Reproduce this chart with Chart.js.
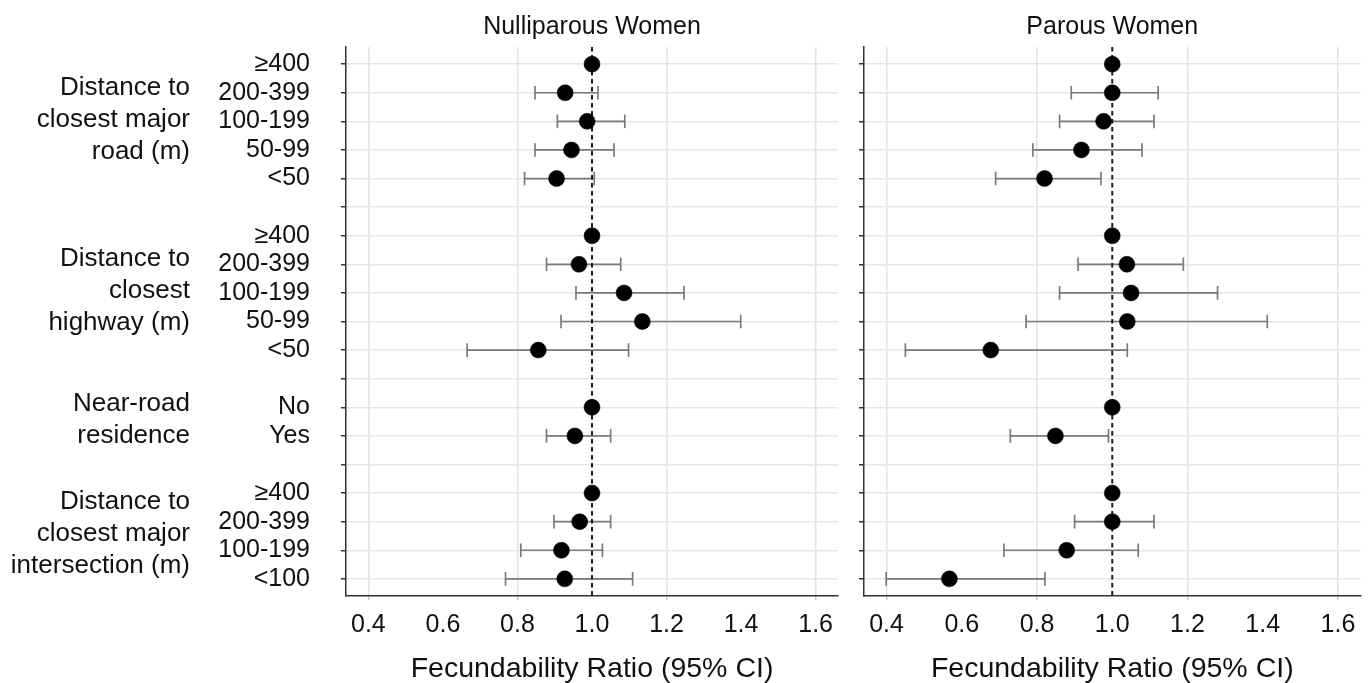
<!DOCTYPE html>
<html><head><meta charset="utf-8">
<script src="https://cdn.jsdelivr.net/npm/chart.js@4.4.1/dist/chart.umd.min.js"></script>
<style>
html,body{margin:0;padding:0;background:#fff;}
#wrap{position:relative;width:1369px;height:683px;overflow:hidden;background:#fff;}
canvas{position:absolute;top:0;}
#c1{left:0;}
#c2{left:850px;}
</style></head><body>
<div id="wrap"><canvas id="c1" width="850" height="683"></canvas><canvas id="c2" width="519" height="683"></canvas></div>
<script>
const rowLabels = ['≥400','200-399','100-199','50-99','<50','',
                   '≥400','200-399','100-199','50-99','<50','',
                   'No','Yes','',
                   '≥400','200-399','100-199','<100'];
const groupNames = [['Distance to','closest major','road (m)'],
                    ['Distance to','closest','highway (m)'],
                    ['Near-road','residence'],
                    ['Distance to','closest major','intersection (m)']];
const groupRows = [[0,4],[6,10],[12,13],[15,18]];
const xTicks = [0.4,0.6,0.8,1.0,1.2,1.4,1.6];
const xGridValues = [0.4,0.8,1.2,1.6];
const panelTitles = ['Nulliparous Women','Parous Women'];
const axisTitle = 'Fecundability Ratio (95% CI)';
const referenceValue = 1.0;

const nulliRatio = [1.00,0.928,0.987,0.945,0.905,null,1.00,0.965,1.086,1.135,0.856,null,1.00,0.954,null,1.00,0.967,0.918,0.927];
const nulliLower = [null,0.847,0.907,0.847,0.819,null,null,0.878,0.957,0.917,0.665,null,null,0.878,null,null,0.898,0.809,0.768];
const nulliUpper = [null,1.016,1.088,1.059,1.006,null,null,1.077,1.247,1.399,1.098,null,null,1.050,null,null,1.050,1.028,1.109];
const parousRatio = [1.00,1.000,0.977,0.918,0.820,null,1.00,1.039,1.050,1.040,0.677,null,1.00,0.849,null,1.00,1.000,0.879,0.567];
const parousLower = [null,0.891,0.860,0.789,0.690,null,null,0.909,0.860,0.771,0.450,null,null,0.729,null,null,0.900,0.712,0.399];
const parousUpper = [null,1.122,1.111,1.079,0.970,null,null,1.189,1.280,1.412,1.040,null,null,0.990,null,null,1.111,1.069,0.821];

const FONT = '"Liberation Sans", Arial, sans-serif';
const TEXT = '#111';
const Y_MIN = -0.6, Y_MAX = 18.6;
const X_MIN = 0.34, X_MAX = 1.66;

const groupLabelPlugin = {
  id: 'groupLabels',
  afterDraw(chart, args, opts) {
    if (!opts.show) return;
    const ctx = chart.ctx, y = chart.scales.y;
    ctx.save();
    ctx.font = '26px ' + FONT;
    ctx.fillStyle = TEXT;
    ctx.textAlign = 'right';
    ctx.textBaseline = 'middle';
    groupNames.forEach((lines, g) => {
      const [a, b] = groupRows[g];
      const cy = y.getPixelForValue((a + b) / 2) - 2;
      lines.forEach((t, k) => {
        ctx.fillText(t, 190, cy + (k - (lines.length - 1) / 2) * 32);
      });
    });
    ctx.restore();
  }
};

function isGrid(v) { return xGridValues.some(g => Math.abs(g - v) < 1e-6); }

function makePanel(id, title, ratio, lower, upper, showLabels, yWidth, padRight) {
  const pts = [];
  ratio.forEach((v, i) => { if (v != null) pts.push({x: v, y: i}); });
  const bars = [];
  lower.forEach((lo, i) => {
    if (lo != null && upper[i] != null) {
      bars.push({x: lo, y: i}, {x: upper[i], y: i}, {x: null, y: null});
    }
  });
  new Chart(document.getElementById(id), {
    type: 'scatter',
    data: {
      datasets: [
        { data: pts, pointRadius: 8, pointHoverRadius: 8, backgroundColor: '#000', borderColor: '#000', borderWidth: 0.5, order: 0 },
        { data: [{x: referenceValue, y: Y_MIN}, {x: referenceValue, y: Y_MAX}], showLine: true, borderColor: '#1a1a1a', borderWidth: 2, borderDash: [4.5, 3.5], pointRadius: 0, order: 1 },
        { data: bars, showLine: true, spanGaps: false, borderColor: '#7a7a7a', borderWidth: 1.7,
          pointStyle: 'line', pointRotation: 90, pointRadius: 6.8, pointBorderColor: '#7a7a7a', pointBorderWidth: 1.7, order: 2 }
      ]
    },
    options: {
      responsive: false, animation: false, events: [], devicePixelRatio: 1,
      layout: { padding: { left: 0, right: padRight, top: 0, bottom: 0 } },
      plugins: {
        legend: { display: false }, tooltip: { enabled: false },
        title: { display: true, text: title, fullSize: false, color: TEXT,
                 font: { family: FONT, size: 25, weight: 'normal' }, padding: { top: 12, bottom: 5 } },
        groupLabels: { show: showLabels }
      },
      scales: {
        x: {
          type: 'linear', min: X_MIN, max: X_MAX,
          afterBuildTicks: s => { s.ticks = xTicks.map(v => ({value: v})); },
          afterFit: s => { s.height = 87; },
          ticks: { callback: v => Number(v).toFixed(1), color: TEXT, font: { family: FONT, size: 25 }, padding: 10, maxRotation: 0, autoSkip: false },
          grid: { color: c => isGrid(c.tick.value) ? '#e2e2e2' : 'rgba(0,0,0,0)',
                  tickColor: c => isGrid(c.tick.value) ? '#c8c8c8' : 'rgba(0,0,0,0)',
                  lineWidth: 1.5, tickLength: 4 },
          border: { color: '#333', width: 1.5 },
          title: { display: true, text: axisTitle, color: TEXT, font: { family: FONT, size: 28.5 }, padding: { top: 0, bottom: -3 } }
        },
        y: {
          type: 'linear', reverse: true, min: Y_MIN, max: Y_MAX,
          afterBuildTicks: s => { s.ticks = rowLabels.map((_, i) => ({value: i})); },
          afterFit: s => { s.width = yWidth; },
          ticks: { callback: v => showLabels ? rowLabels[Math.round(v)] : '', color: TEXT, font: { family: FONT, size: 25 }, padding: 31, autoSkip: false },
          grid: { color: '#e6e6e6', lineWidth: 1.5, tickColor: '#333', tickLength: 5 },
          border: { color: '#333', width: 1.5 }
        }
      }
    },
    plugins: [groupLabelPlugin]
  });
}

makePanel('c1', panelTitles[0], nulliRatio, nulliLower, nulliUpper, true, 346, 12);
makePanel('c2', panelTitles[1], parousRatio, parousLower, parousUpper, false, 14, 7);
</script>
</body></html>
